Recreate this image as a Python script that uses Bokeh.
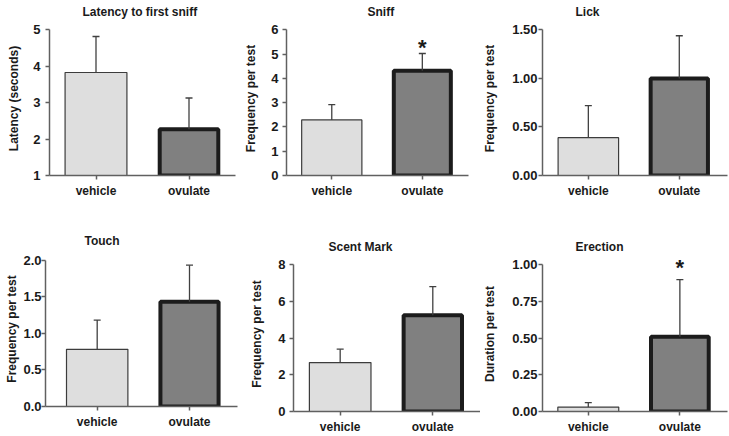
from bokeh.plotting import figure
from bokeh.layouts import column, row
from bokeh.models import Range1d, FixedTicker, ColumnDataSource
from bokeh.core.properties import value
from bokeh.embed import file_html
from bokeh.resources import INLINE

# ---------------- data ----------------
categories = ["vehicle", "ovulate"]

latency_mean = [3.83, 2.27]
latency_sem = [0.99, 0.86]
sniff_mean = [2.29, 4.32]
sniff_sem = [0.63, 0.71]
lick_mean = [0.39, 1.00]
lick_sem = [0.33, 0.44]
touch_mean = [0.78, 1.43]
touch_sem = [0.40, 0.50]
scent_mean = [2.67, 5.25]
scent_sem = [0.73, 1.57]
erection_mean = [0.03, 0.51]
erection_sem = [0.03, 0.39]

no_sig = ["", ""]
sniff_sig = ["", "*"]
erection_sig = ["", "*"]

titles = ["Latency to first sniff", "Sniff", "Lick", "Touch", "Scent Mark", "Erection"]
ylabels = ["Latency (seconds)", "Frequency per test", "Frequency per test",
           "Frequency per test", "Frequency per test", "Duration per test"]

latency_ticks = [1, 2, 3, 4, 5]
latency_tick_labels = ["1", "2", "3", "4", "5"]
sniff_ticks = [0, 1, 2, 3, 4, 5, 6]
sniff_tick_labels = ["0", "1", "2", "3", "4", "5", "6"]
lick_ticks = [0, 0.5, 1.0, 1.5]
lick_tick_labels = ["0.00", "0.50", "1.00", "1.50"]
touch_ticks = [0, 0.5, 1.0, 1.5, 2.0]
touch_tick_labels = ["0.0", "0.5", "1.0", "1.5", "2.0"]
scent_ticks = [0, 2, 4, 6, 8]
scent_tick_labels = ["0", "2", "4", "6", "8"]
erection_ticks = [0, 0.25, 0.5, 0.75, 1.0]
erection_tick_labels = ["0.00", "0.25", "0.50", "0.75", "1.00"]

# ---------------- styling / layout ----------------
FONT = "Liberation Sans"
TXT = "#1a1a1a"
AX = "#606060"
ERR = "#404040"
FILLS = ["#dedede", "#808080"]
LINES = ["#3c3c3c", "#1c1c1c"]
LWS = [1.2, 4.0]
BAR_W = [0.665, 0.63]
PAD = 8.5  # px of empty frame above the top tick

layouts = [
    dict(w=241, h=218, l=49, r=6, t=20, b=43, xr=(0.5, 2.5), toff=33, tst=5, ls=5, als=9, sdy=0),
    dict(w=239, h=218, l=41, r=12, t=20, b=43, xr=(0.5, 2.51), toff=81, tst=4.6, ls=4, als=10, sdy=-6),
    dict(w=249, h=218, l=58, r=2, t=20, b=43, xr=(0.496, 2.53), toff=33, tst=4.6, ls=1, als=12, sdy=0),
    dict(w=241, h=218, l=45, r=4, t=33, b=30, xr=(0.44, 2.52), toff=39, tst=6.6, ls=0, als=1, sdy=0),
    dict(w=239, h=218, l=52, r=0, t=38, b=24, xr=(0.496, 2.515), toff=35, tst=4.4, ls=4, als=11, sdy=0),
    dict(w=249, h=218, l=58, r=2, t=38, b=24, xr=(0.5, 2.52), toff=33, tst=5.6, ls=1, als=12, sdy=-12.5),
]


def make_panel(title, ylabel, means, sems, ticks, tick_labels, sig, lay):
    y0, y1 = ticks[0], ticks[-1]
    span = y1 - y0
    frame_h = lay["h"] - lay["t"] - lay["b"]
    y_end = y1 + span * PAD / (frame_h - PAD)
    p = figure(width=lay["w"], height=lay["h"], output_backend="svg",
               toolbar_location=None,
               x_range=Range1d(*lay["xr"]),
               y_range=Range1d(y0, y_end),
               min_border_left=lay["l"], min_border_right=lay["r"],
               min_border_top=lay["t"], min_border_bottom=lay["b"])
    p.outline_line_color = None
    p.xgrid.visible = False
    p.ygrid.visible = False
    p.background_fill_color = "white"
    p.border_fill_color = "white"

    xs = [i + 1 for i in range(len(categories))]
    src = ColumnDataSource(dict(
        x=xs, top=list(means), up=[m + s for m, s in zip(means, sems)],
        fill=FILLS, line=LINES, lw=LWS, width=BAR_W, sig=sig))

    p.vbar(x="x", width="width", bottom=y0, top="top", fill_color="fill",
           line_color="line", line_width="lw", source=src)
    p.segment(x0="x", y0="top", x1="x", y1="up", line_color=ERR,
              line_width=1.3, source=src)
    p.scatter(x="x", y="up", marker="dash", size=7, line_color=ERR,
              line_width=1.3, source=src)
    p.text(x="x", y="up", text="sig", text_font=value(FONT),
           text_font_style="bold", text_font_size="22px", text_align="center",
           text_baseline="alphabetic", text_color=TXT, y_offset=lay["sdy"],
           source=src)

    p.title.text = title
    p.title.align = "left"
    p.title.offset = lay["toff"]
    p.title.standoff = lay["tst"]
    p.title.text_font = FONT
    p.title.text_font_style = "bold"
    p.title.text_font_size = "12px"
    p.title.text_color = TXT

    xa = p.xaxis[0]
    xa.ticker = FixedTicker(ticks=xs)
    xa.major_label_overrides = {x: c for x, c in zip(xs, categories)}
    xa.major_label_text_font = FONT
    xa.major_label_text_font_style = "bold"
    xa.major_label_text_font_size = "12px"
    xa.major_label_text_color = TXT
    xa.major_label_standoff = 4
    xa.axis_line_color = AX
    xa.axis_line_width = 1.5
    xa.major_tick_line_color = AX
    xa.major_tick_line_width = 1.5
    xa.major_tick_out = 4
    xa.major_tick_in = 0
    xa.minor_tick_line_color = None

    ya = p.yaxis[0]
    ya.ticker = FixedTicker(ticks=ticks)
    ya.major_label_overrides = {t: lab for t, lab in zip(ticks, tick_labels)}
    ya.bounds = (y0, y1)
    ya.axis_label = ylabel
    ya.axis_label_text_font = FONT
    ya.axis_label_text_font_style = "bold"
    ya.axis_label_text_font_size = "12px"
    ya.axis_label_text_color = TXT
    ya.axis_label_standoff = lay["als"]
    ya.major_label_text_font = FONT
    ya.major_label_text_font_style = "bold"
    ya.major_label_text_font_size = "13px"
    ya.major_label_text_color = TXT
    ya.major_label_standoff = lay["ls"]
    ya.axis_line_color = AX
    ya.axis_line_width = 1.5
    ya.major_tick_line_color = AX
    ya.major_tick_line_width = 1.5
    ya.major_tick_out = 4
    ya.major_tick_in = 0
    ya.minor_tick_line_color = None
    return p


panels_data = [
    (latency_mean, latency_sem, latency_ticks, latency_tick_labels, no_sig),
    (sniff_mean, sniff_sem, sniff_ticks, sniff_tick_labels, sniff_sig),
    (lick_mean, lick_sem, lick_ticks, lick_tick_labels, no_sig),
    (touch_mean, touch_sem, touch_ticks, touch_tick_labels, no_sig),
    (scent_mean, scent_sem, scent_ticks, scent_tick_labels, no_sig),
    (erection_mean, erection_sem, erection_ticks, erection_tick_labels, erection_sig),
]

plots = []
for i, (m, s, tk, tl, sg) in enumerate(panels_data):
    plots.append(make_panel(titles[i], ylabels[i], m, s, tk, tl, sg, layouts[i]))

# wrap each plot in its own column so that frames are not forced into alignment
cells = [column(pl, width=pl.width, height=pl.height) for pl in plots]
layout = column(row(cells[0], cells[1], cells[2]), row(cells[3], cells[4], cells[5]))

open("out.html", "w").write(file_html(layout, INLINE))
